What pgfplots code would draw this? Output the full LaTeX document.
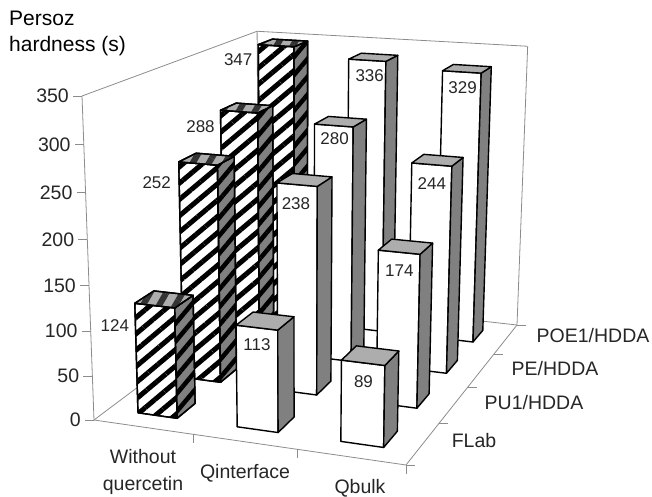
\documentclass[border=0pt]{standalone}
\usepackage{pgfplots}
\pgfplotsset{compat=1.18}
\usepackage{fontspec}
\setmainfont{Liberation Sans}
\usetikzlibrary{patterns.meta}

% Corners of the chart floor on the page, used for the perspective projection.
\def\AX{94}\def\AY{420}
\def\BX{406}\def\BY{465}
\def\CX{517}\def\CY{325}
\def\DX{259}\def\DY{296}
% Top of the value axis above the corner A, and the depth term for height.
\def\TX{82}\def\TY{96}
\def\depthR{-0.055}

\pgfmathsetmacro\dxa{(\BX-\CX)/100}\pgfmathsetmacro\dya{(\BY-\CY)/100}
\pgfmathsetmacro\dxb{(\DX-\CX)/100}\pgfmathsetmacro\dyb{(\DY-\CY)/100}
\pgfmathsetmacro\sxx{(\AX-\BX+\CX-\DX)/100}\pgfmathsetmacro\syy{(\AY-\BY+\CY-\DY)/100}
\pgfmathsetmacro\detm{\dxa*\dyb-\dxb*\dya}
\pgfmathsetmacro\cG{(\sxx*\dyb-\dxb*\syy)/\detm}
\pgfmathsetmacro\cH{(\dxa*\syy-\sxx*\dya)/\detm}
\pgfmathsetmacro\cA{\BX-\AX+\cG*\BX}
\pgfmathsetmacro\cB{\DX-\AX+\cH*\DX}
\pgfmathsetmacro\cD{\BY-\AY+\cG*\BY}
\pgfmathsetmacro\cE{\DY-\AY+\cH*\DY}
\pgfmathsetmacro\cP{\TX*(1+\depthR)-\AX}
\pgfmathsetmacro\cQ{\TY*(1+\depthR)-\AY}

% \project{category}{series}{value}{name}: page position of a chart point.
\newcommand\project[4]{%
  \pgfmathsetmacro\pU{#1/3}\pgfmathsetmacro\pV{#2/4}\pgfmathsetmacro\pW{#3/350}%
  \pgfmathsetmacro\pN{\cG*\pU+\cH*\pV+1+\depthR*\pW}%
  \pgfmathsetmacro{\pX}{(\cA*\pU+\cB*\pV+\AX+\cP*\pW)/\pN}%
  \pgfmathsetmacro{\pY}{(\cD*\pU+\cE*\pV+\AY+\cQ*\pW)/\pN}%
  \expandafter\let\csname #4x\endcsname\pX
  \expandafter\let\csname #4y\endcsname\pY}

\tikzset{
  wall/.style={draw=black!45,line width=0.8pt},
  plainfront/.style={fill=white},
  plainside/.style={fill=black!50},
  plaintop/.style={fill=black!32},
  hatchfront/.style={fill=white,postaction={pattern={Lines[angle=40,distance=12.5pt,line width=5pt]},pattern color=black}},
  hatchside/.style={fill=black!50,postaction={pattern={Lines[angle=50,distance=11.5pt,line width=4.5pt]},pattern color=black}},
  hatchtop/.style={fill=black!32,postaction={pattern={Lines[angle=60,distance=14pt,line width=6pt]},pattern color=black!80}},
  barlabel/.style={font=\fontsize{17}{20}\selectfont,text=black!85,inner sep=0pt},
  axislabel/.style={font=\fontsize{19.5}{23}\selectfont,text=black!85,inner sep=0pt},
}

\newcommand\wallline[6]{%
  \project{#1}{#2}{#3}{m}\project{#4}{#5}{#6}{n}%
  \addplot[wall] coordinates {(\mx,\my) (\nx,\ny)};}

% \persozbar{category}{series}{value}{hatch|plain}{label dx}{label dy}
\newcommand\persozbar[6]{%
  \pgfmathsetmacro\uA{#1+0.3}\pgfmathsetmacro\uB{#1+0.7}%
  \pgfmathsetmacro\vA{#2+0.3}\pgfmathsetmacro\vB{#2+0.7}%
  \project{\uA}{\vA}{0}{a}\project{\uB}{\vA}{0}{b}\project{\uB}{\vB}{0}{c}%
  \project{\uA}{\vA}{#3}{d}\project{\uB}{\vA}{#3}{e}\project{\uB}{\vB}{#3}{f}\project{\uA}{\vB}{#3}{g}%
  \addplot[#4front,draw=black,line width=1.4pt,line join=round]
    coordinates {(\ax,\ay) (\bx,\by) (\ex,\ey) (\dx,\dy)} -- cycle;
  \addplot[#4side,draw=black,line width=1.4pt,line join=round]
    coordinates {(\bx,\by) (\cx,\cy) (\fx,\fy) (\ex,\ey)} -- cycle;
  \addplot[#4top,draw=black,line width=1.4pt,line join=round]
    coordinates {(\dx,\dy) (\ex,\ey) (\fx,\fy) (\gx,\gy)} -- cycle;
  \pgfmathsetmacro\lx{\dx+#5}\pgfmathsetmacro\ly{\dy+#6}%
  \edef\temp{\noexpand\node[barlabel] at (axis cs:\lx,\ly) {#3};}\temp}

\begin{document}
\begin{tikzpicture}
\begin{axis}[
  scale only axis,width=652pt,height=496pt,
  xmin=0,xmax=652,ymin=0,ymax=496,y dir=reverse,
  axis lines=none,clip=false,
]
% Page frame of the drawing
\path (axis cs:0,0) rectangle (axis cs:652,496);
% Walls and floor
\wallline{0}{0}{0}{3}{0}{0}
\wallline{3}{0}{0}{3}{4}{0}
\wallline{3}{4}{0}{0}{4}{0}
\wallline{0}{4}{0}{0}{0}{0}
\wallline{0}{0}{0}{0}{0}{350}
\wallline{0}{0}{350}{0}{4}{350}
\wallline{0}{4}{350}{3}{4}{350}
\wallline{3}{4}{350}{3}{4}{0}
\wallline{0}{4}{0}{0}{4}{350}
% Bars from the back row to the front row
\persozbar{0}{3}{347}{hatch}{-20}{15}
\persozbar{1}{3}{336}{plain}{21}{17}
\persozbar{2}{3}{329}{plain}{20}{17}
\persozbar{0}{2}{288}{hatch}{-20}{16}
\persozbar{1}{2}{280}{plain}{20}{15}
\persozbar{2}{2}{244}{plain}{20}{21}
\persozbar{0}{1}{252}{hatch}{-22}{21}
\persozbar{1}{1}{238}{plain}{19}{21}
\persozbar{2}{1}{174}{plain}{21}{21}
\persozbar{0}{0}{124}{hatch}{-20}{22}
\persozbar{1}{0}{113}{plain}{21}{19}
\persozbar{2}{0}{89}{plain}{22}{22}
% Value axis ticks and labels
\pgfplotsinvokeforeach{0,50,...,350}{%
  \project{0}{0}{#1}{t}%
  \pgfmathsetmacro\tickx{\tx-9}%
  \pgfmathsetmacro\labx{\tx-13}%
  \addplot[wall] coordinates {(\tx,\ty) (\tickx,\ty)};
  \edef\temp{\noexpand\node[axislabel,anchor=east] at (axis cs:\labx,\ty) {#1};}\temp
}
% Category ticks along the front edge
\pgfplotsinvokeforeach{1,2,3}{%
  \project{#1}{0}{0}{t}%
  \pgfmathsetmacro\ticky{\ty+9}%
  \addplot[wall] coordinates {(\tx,\ty) (\tx,\ticky)};
}
% Series ticks along the right edge
\pgfplotsinvokeforeach{0,1,2,3,4}{%
  \project{3}{#1}{0}{t}%
  \pgfmathsetmacro\tickx{\tx+9}%
  \addplot[wall] coordinates {(\tx,\ty) (\tickx,\ty)};
}
\node[axislabel,align=center] at (axis cs:143,472) {Without\\[4pt]quercetin};
\node[axislabel] at (axis cs:245,473) {Qinterface};
\node[axislabel] at (axis cs:360,488) {Qbulk};
\node[axislabel] at (axis cs:474,441) {FLab};
\node[axislabel] at (axis cs:534,403) {PU1/HDDA};
\node[axislabel] at (axis cs:555,369) {PE/HDDA};
\node[axislabel] at (axis cs:593,336) {POE1/HDDA};
\node[align=left,anchor=north west,inner sep=0pt,text=black,font=\fontsize{21}{25.5}\selectfont] at (axis cs:9,11) {Persoz\\hardness (s)};
\end{axis}
\end{tikzpicture}
\end{document}
